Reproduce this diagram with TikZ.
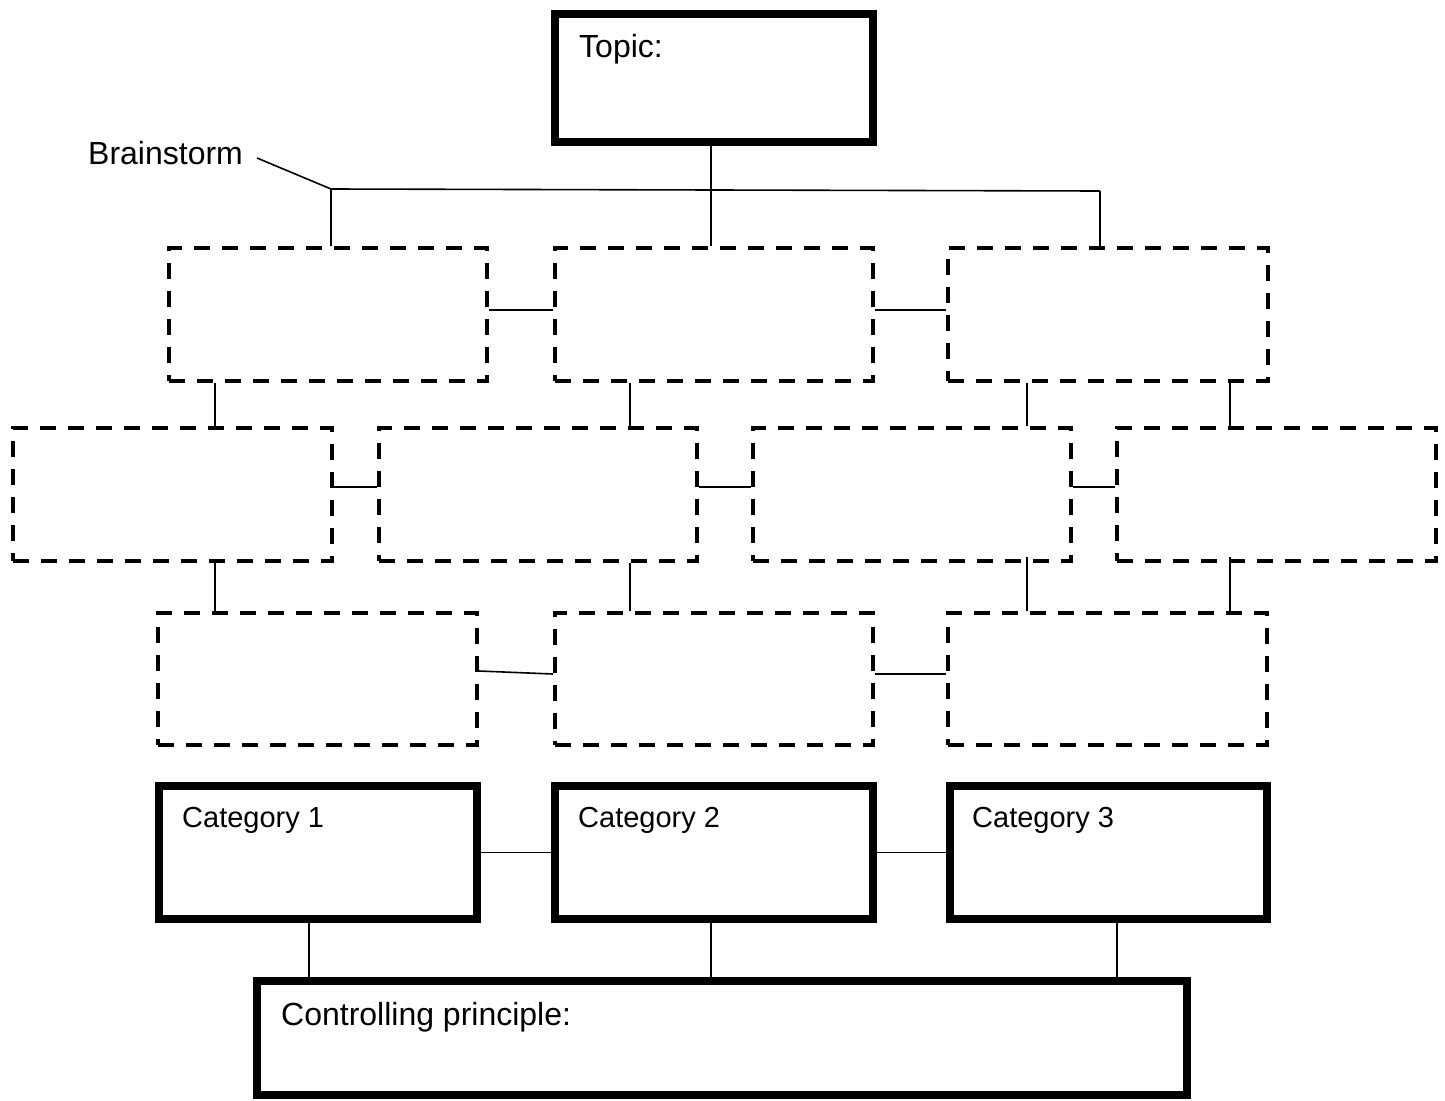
\documentclass[tikz,border=0pt]{standalone}
\usepackage{fontspec}
\setmainfont{Liberation Sans}
\begin{document}
\begin{tikzpicture}[x=1pt,y=-1pt,
  thickbox/.style={draw=black,line width=7.5pt,inner sep=0pt,minimum width=318pt,minimum height=133pt},
  dashbox/.style={draw=black,line width=4pt,dash pattern=on 16pt off 12pt,inner sep=0pt,minimum width=318pt,minimum height=133pt},
  link/.style={draw=black,line width=1.6pt},
  lbl/.style={anchor=base west,inner sep=0pt,font=\fontsize{32}{38}\selectfont},
  catlbl/.style={anchor=base west,inner sep=0pt,font=\fontsize{29}{35}\selectfont}]
\useasboundingbox (0,0) rectangle (1445,1100);
% top
\node[thickbox,minimum height=128pt] (topic) at (714,78) {};
\node[lbl] (topictxt) at (579,57) {Topic:};
\node[lbl] (bstorm) at (88,164) {Brainstorm};
% row 1
\node[dashbox] (A) at (328,314.5) {};
\node[dashbox] (B) at (714,314.5) {};
\node[dashbox,minimum width=320pt] (C) at (1108,314.5) {};
% row 2
\node[dashbox,minimum width=319pt] (D) at (172.5,494.5) {};
\node[dashbox] (E) at (538,494.5) {};
\node[dashbox] (F) at (912,494.5) {};
\node[dashbox,minimum width=319pt] (G) at (1276.5,494.5) {};
% row 3
\node[dashbox,minimum width=319pt,minimum height=132pt] (H) at (317.5,679) {};
\node[dashbox,minimum height=132pt] (I) at (714,679) {};
\node[dashbox,minimum width=319pt,minimum height=132pt] (J) at (1107.5,679) {};
% categories
\node[thickbox] (K1) at (318,852.5) {};
\node[thickbox] (K2) at (714,852.5) {};
\node[thickbox,minimum width=317pt] (K3) at (1108.5,852.5) {};
\node[catlbl] (k1txt) at (182,827) {Category 1};
\node[catlbl] (k2txt) at (578,827) {Category 2};
\node[catlbl] (k3txt) at (972,827) {Category 3};
% controlling principle
\node[thickbox,minimum width=930pt,minimum height=114pt] (CP) at (722,1038) {};
\node[lbl] (cptxt) at (281,1025) {Controlling principle:};
% coordinates
\coordinate (bs) at (257,158);
\coordinate (bl) at (331,189);
\coordinate (br) at (1100,191);
\coordinate (xa) at (215,0);
\coordinate (xb) at (630,0);
\coordinate (xc) at (1027,0);
\coordinate (xd) at (1230,0);
\coordinate (xk1) at (309,0);
\coordinate (xk2) at (711,0);
\coordinate (xk3) at (1117,0);
% brainstorm connectors
\draw[link] (bs) -- (bl) -- (br);
\draw[link] (bl) -- (bl |- A.north);
\draw[link] (br) -- (br |- C.north);
\draw[link] (topic.south -| xk2) -- (xk2 |- B.north);
% row links
\draw[link] ([yshift=4.5pt]A.east) -- ([yshift=4.5pt]B.west);
\draw[link] ([yshift=4.5pt]B.east) -- ([yshift=4.5pt]C.west);
\draw[link] ([yshift=7.5pt]D.east) -- ([yshift=7.5pt]E.west);
\draw[link] ([yshift=7.5pt]E.east) -- ([yshift=7.5pt]F.west);
\draw[link] ([yshift=7.5pt]F.east) -- ([yshift=7.5pt]G.west);
\draw[link] ([yshift=8pt]H.east) -- ([yshift=5pt]I.west);
\draw[link] ([yshift=5pt]I.east) -- ([yshift=5pt]J.west);
% vertical links row1-row2
\draw[link] (xa |- A.south) -- (xa |- D.north);
\draw[link] (xb |- B.south) -- (xb |- E.north);
\draw[link] (xc |- C.south) -- (xc |- F.north);
\draw[link] (xd |- C.south) -- (xd |- G.north);
% vertical links row2-row3
\draw[link] (xa |- D.south) -- (xa |- H.north);
\draw[link] (xb |- E.south) -- (xb |- I.north);
\draw[link] ([yshift=6pt]xc |- F.south) -- (xc |- J.north);
\draw[link] ([yshift=6pt]xd |- G.south) -- (xd |- J.north);
% categories
\draw[link] (K1.east) -- (K2.west);
\draw[link] (K2.east) -- (K3.west);
\draw[link] (xk1 |- K1.south) -- (xk1 |- CP.north);
\draw[link] (xk2 |- K2.south) -- (xk2 |- CP.north);
\draw[link] (xk3 |- K3.south) -- (xk3 |- CP.north);
\end{tikzpicture}
\end{document}
